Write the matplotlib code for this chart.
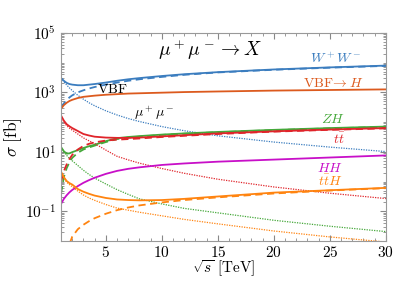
import matplotlib
matplotlib.use("Agg")
import matplotlib.pyplot as plt
import numpy as np

plt.rcParams['mathtext.fontset'] = 'cm'
plt.rcParams['font.family'] = 'serif'
plt.rcParams['font.serif'] = ['DejaVu Serif']

# sqrt(s) in TeV
x = [1, 1.25, 1.5, 1.75, 2, 2.5, 3, 3.5, 4, 5, 6, 7, 8, 10, 12, 15, 20, 25, 30]

# log10(sigma / fb)
ww_tot = [3.48, 3.39, 3.32, 3.28, 3.26, 3.24, 3.24, 3.26, 3.28, 3.33, 3.39, 3.44, 3.48, 3.55, 3.61, 3.68, 3.77, 3.84, 3.90]
ww_vbf = [2.50, 2.63, 2.74, 2.83, 2.90, 3.00, 3.07, 3.13, 3.18, 3.26, 3.33, 3.39, 3.44, 3.52, 3.59, 3.67, 3.76, 3.83, 3.89]
ww_mm = [3.48, 3.36, 3.25, 3.15, 3.06, 2.90, 2.77, 2.65, 2.55, 2.38, 2.24, 2.12, 2.02, 1.85, 1.71, 1.54, 1.33, 1.16, 1.01]

vbf_h = [2.45, 2.57, 2.65, 2.71, 2.75, 2.81, 2.85, 2.87, 2.89, 2.92, 2.94, 2.96, 2.97, 2.99, 3.01, 3.03, 3.06, 3.08, 3.10]

tt_tot = [2.22, 2.05, 1.93, 1.86, 1.80, 1.70, 1.60, 1.55, 1.51, 1.48, 1.47, 1.47, 1.48, 1.52, 1.56, 1.62, 1.69, 1.75, 1.80]
tt_vbf = [0.00, 0.35, 0.58, 0.76, 0.90, 1.08, 1.20, 1.27, 1.32, 1.38, 1.41, 1.43, 1.45, 1.50, 1.54, 1.60, 1.68, 1.74, 1.79]
tt_mm = [2.22, 2.00, 1.88, 1.80, 1.73, 1.60, 1.47, 1.37, 1.28, 1.06, 0.85, 0.73, 0.62, 0.44, 0.28, 0.08, -0.18, -0.39, -0.57]

zh_tot = [1.16, 1.02, 0.94, 0.95, 0.99, 1.06, 1.13, 1.19, 1.24, 1.36, 1.46, 1.50, 1.53, 1.58, 1.62, 1.67, 1.74, 1.80, 1.85]
zh_vbf = [-0.40, 0.15, 0.45, 0.65, 0.80, 0.97, 1.08, 1.15, 1.21, 1.33, 1.43, 1.48, 1.51, 1.57, 1.61, 1.66, 1.73, 1.79, 1.84]
zh_mm = [1.16, 1.00, 0.88, 0.78, 0.70, 0.54, 0.38, 0.24, 0.12, -0.08, -0.27, -0.43, -0.58, -0.75, -0.90, -1.05, -1.30, -1.50, -1.68]

hh_tot = [-0.75, -0.58, -0.46, -0.36, -0.28, -0.15, -0.04, 0.05, 0.13, 0.26, 0.36, 0.43, 0.48, 0.56, 0.61, 0.67, 0.74, 0.81, 0.88]

tth_tot = [0.33, 0.15, 0.02, -0.05, -0.10, -0.25, -0.34, -0.41, -0.47, -0.55, -0.60, -0.62, -0.63, -0.62, -0.58, -0.50, -0.37, -0.29, -0.21]
tth_vbf = [None, None, -2.45, -2.10, -1.85, -1.60, -1.45, -1.33, -1.23, -1.08, -0.96, -0.87, -0.80, -0.70, -0.62, -0.53, -0.40, -0.30, -0.22]
tth_mm = [0.33, 0.13, -0.02, -0.10, -0.17, -0.32, -0.45, -0.55, -0.63, -0.77, -0.89, -0.96, -1.03, -1.15, -1.27, -1.42, -1.66, -1.86, -2.03]

c_blue = "#3b7dbf"
c_vbfh = "#dc5a1e"
c_green = "#45a83a"
c_red = "#e0242a"
c_mag = "#c80fc8"
c_orange = "#ff8410"


def p10(v):
    return np.array([np.nan if a is None else 10.0 ** a for a in v])


fig = plt.figure(figsize=(4.07, 2.81), dpi=100)
ax = fig.add_axes([0.150, 0.142, 0.798, 0.741])

groups = [
    (c_blue, ww_tot, ww_vbf, ww_mm),
    (c_vbfh, vbf_h, None, None),
    (c_green, zh_tot, zh_vbf, zh_mm),
    (c_red, tt_tot, tt_vbf, tt_mm),
    (c_mag, hh_tot, None, None),
    (c_orange, tth_tot, tth_vbf, tth_mm),
]
for col, tot, vbf, mm in groups:
    ax.plot(x, p10(tot), color=col, lw=1.3, ls="-")
    if vbf is not None:
        ax.plot(x, p10(vbf), color=col, lw=1.3, ls=(0, (4, 2.5)))
    if mm is not None:
        ax.plot(x, p10(mm), color=col, lw=0.9, ls=(0, (1, 1)))

ax.set_yscale("log")
ax.set_xlim(1, 30)
ax.set_ylim(1e-2, 1e5)
ax.set_xticks([5, 10, 15, 20, 25, 30])
ax.set_xticks(np.arange(1, 31, 1), minor=True)
ax.set_yticks([1e-1, 1e1, 1e3, 1e5])
ax.set_yticklabels([r"$10^{-1}$", r"$10^{1}$", r"$10^{3}$", r"$10^{5}$"])
ax.yaxis.set_minor_locator(matplotlib.ticker.LogLocator(base=10, subs=np.arange(1, 10), numticks=30))
ax.yaxis.set_minor_formatter(matplotlib.ticker.NullFormatter())
ax.set_xticklabels([r"$%d$" % t for t in [5, 10, 15, 20, 25, 30]])
ax.tick_params(which="both", direction="in", top=True, right=True, color="#888888", labelsize=11)
ax.tick_params(which="major", length=4)
ax.tick_params(which="minor", length=2)
ax.tick_params(axis="x", which="major", pad=2.5)
for s in ax.spines.values():
    s.set_color("#999999")

# x label placed in figure coords so it stays inside the canvas
fig.text(0.549, 0.006, r"$\sqrt{s}\ [\mathrm{TeV}]$", fontsize=11, ha="center", va="bottom")
ax.set_ylabel(r"$\sigma\ [\mathrm{fb}]$", fontsize=12.5, labelpad=1)

ax.text(14.3, 10 ** 4.43, r"$\mu^+\mu^- \to X$", fontsize=14, ha="center", va="center")
ax.text(4.2, 10 ** 3.1, r"$\mathrm{VBF}$", fontsize=10, ha="left", va="center")
ax.text(9.3, 10 ** 2.3, r"$\mu^+\mu^-$", fontsize=10, ha="center", va="center")

ax.text(25.5, 10 ** 4.13, r"$W^+W^-$", color=c_blue, fontsize=10, ha="center", va="center")
ax.text(25.3, 10 ** 3.3, r"$\mathrm{VBF}\!\rightarrow H$", color=c_vbfh, fontsize=10, ha="center", va="center")
ax.text(25.3, 10 ** 2.1, r"$ZH$", color=c_green, fontsize=10, ha="center", va="center")
ax.text(25.8, 10 ** 1.43, r"$t\bar{t}$", color=c_red, fontsize=10, ha="center", va="center")
ax.text(25.0, 10 ** 0.47, r"$HH$", color=c_mag, fontsize=10, ha="center", va="center")
ax.text(25.0, 10 ** 0.0, r"$t\bar{t}H$", color=c_orange, fontsize=10, ha="center", va="center")

plt.savefig("out.png", dpi=100)
